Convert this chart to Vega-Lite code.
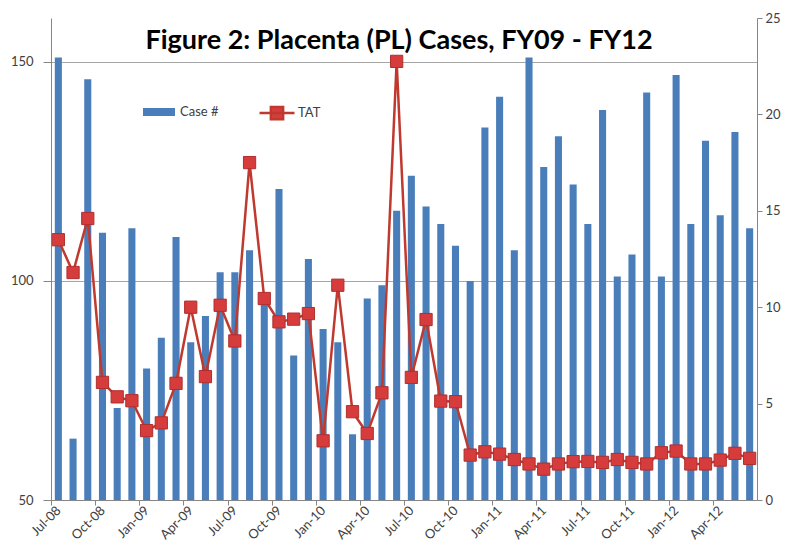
{
  "$schema": "https://vega.github.io/schema/vega-lite/v6.json",
  "width": 706,
  "height": 482,
  "autosize": {"type": "none"},
  "padding": {"left": 51, "top": 18, "right": 29, "bottom": 56},
  "background": "white",
  "config": {
    "font": "Lato",
    "view": {"stroke": null},
    "axis": {"labelFont": "Lato", "labelColor": "#404040", "labelFontSize": 13, "domainColor": "#868686", "tickColor": "#868686", "title": null}
  },
  "title": {
    "text": "Figure 2: Placenta (PL) Cases, FY09 - FY12",
    "font": "Lato",
    "fontSize": 27,
    "fontWeight": "bold",
    "color": "#000000",
    "anchor": "middle",
    "baseline": "alphabetic",
    "offset": 0,
    "dy": 64,
    "dx": -5
  },
  "data": {
    "values": [
      {"month": "Jul-08", "cases": 151, "tat": 13.5},
      {"month": "Aug-08", "cases": 64, "tat": 11.8},
      {"month": "Sep-08", "cases": 146, "tat": 14.6},
      {"month": "Oct-08", "cases": 111, "tat": 6.1},
      {"month": "Nov-08", "cases": 71, "tat": 5.35},
      {"month": "Dec-08", "cases": 112, "tat": 5.15},
      {"month": "Jan-09", "cases": 80, "tat": 3.6},
      {"month": "Feb-09", "cases": 87, "tat": 4.0},
      {"month": "Mar-09", "cases": 110, "tat": 6.05},
      {"month": "Apr-09", "cases": 86, "tat": 10.0},
      {"month": "May-09", "cases": 92, "tat": 6.4},
      {"month": "Jun-09", "cases": 102, "tat": 10.1},
      {"month": "Jul-09", "cases": 102, "tat": 8.25},
      {"month": "Aug-09", "cases": 107, "tat": 17.5},
      {"month": "Sep-09", "cases": 95, "tat": 10.45},
      {"month": "Oct-09", "cases": 121, "tat": 9.24},
      {"month": "Nov-09", "cases": 83, "tat": 9.38},
      {"month": "Dec-09", "cases": 105, "tat": 9.67},
      {"month": "Jan-10", "cases": 89, "tat": 3.07},
      {"month": "Feb-10", "cases": 86, "tat": 11.14},
      {"month": "Mar-10", "cases": 65, "tat": 4.58},
      {"month": "Apr-10", "cases": 96, "tat": 3.45},
      {"month": "May-10", "cases": 99, "tat": 5.56},
      {"month": "Jun-10", "cases": 116, "tat": 22.75},
      {"month": "Jul-10", "cases": 124, "tat": 6.36},
      {"month": "Aug-10", "cases": 117, "tat": 9.36},
      {"month": "Sep-10", "cases": 113, "tat": 5.13},
      {"month": "Oct-10", "cases": 108, "tat": 5.1},
      {"month": "Nov-10", "cases": 100, "tat": 2.33},
      {"month": "Dec-10", "cases": 135, "tat": 2.5},
      {"month": "Jan-11", "cases": 142, "tat": 2.38},
      {"month": "Feb-11", "cases": 107, "tat": 2.1},
      {"month": "Mar-11", "cases": 151, "tat": 1.87},
      {"month": "Apr-11", "cases": 126, "tat": 1.6},
      {"month": "May-11", "cases": 133, "tat": 1.87},
      {"month": "Jun-11", "cases": 122, "tat": 1.99},
      {"month": "Jul-11", "cases": 113, "tat": 2.0},
      {"month": "Aug-11", "cases": 139, "tat": 1.95},
      {"month": "Sep-11", "cases": 101, "tat": 2.1},
      {"month": "Oct-11", "cases": 106, "tat": 1.95},
      {"month": "Nov-11", "cases": 143, "tat": 1.87},
      {"month": "Dec-11", "cases": 101, "tat": 2.45},
      {"month": "Jan-12", "cases": 147, "tat": 2.54},
      {"month": "Feb-12", "cases": 113, "tat": 1.87},
      {"month": "Mar-12", "cases": 132, "tat": 1.87},
      {"month": "Apr-12", "cases": 115, "tat": 2.07},
      {"month": "May-12", "cases": 134, "tat": 2.42},
      {"month": "Jun-12", "cases": 112, "tat": 2.16}
    ]
  },
  "encoding": {
    "x": {
      "field": "month",
      "type": "ordinal",
      "sort": null,
      "scale": {"paddingInner": 0.52, "paddingOuter": 0.26},
      "axis": {
        "values": ["Jul-08", "Oct-08", "Jan-09", "Apr-09", "Jul-09", "Oct-09", "Jan-10", "Apr-10", "Jul-10", "Oct-10", "Jan-11", "Apr-11", "Jul-11", "Oct-11", "Jan-12", "Apr-12"],
        "labelAngle": -45,
        "labelAlign": "right",
        "labelBaseline": "middle",
        "labelFontSize": 13,
        "tickOffset": -7.35,
        "labelOffset": 7.35,
        "tickSize": 5,
        "labelPadding": 3,
        "grid": false
      }
    }
  },
  "layer": [
    {
      "mark": {"type": "bar", "clip": true},
      "encoding": {
        "y": {
          "field": "cases",
          "type": "quantitative",
          "scale": {"domain": [50, 160], "zero": false, "nice": false},
          "axis": {
            "orient": "left",
            "values": [50, 100, 150],
            "grid": true,
            "gridColor": "#a6a6a6",
            "gridWidth": 1,
            "tickSize": 8,
            "labelPadding": 10
          }
        },
        "y2": {"datum": 50},
        "color": {
          "datum": "Case #",
          "scale": {"range": ["#4a7ebb"]},
          "legend": {
            "orient": "none",
            "legendX": 92,
            "legendY": 78,
            "title": null,
            "padding": 0,
            "symbolType": "M-1,-0.25H1V0.25H-1Z",
            "symbolSize": 1024,
            "symbolStrokeWidth": 0,
            "labelFont": "Lato",
            "labelFontSize": 13,
            "labelColor": "#404040",
            "labelOffset": 5
          }
        }
      }
    },
    {
      "encoding": {
        "y": {
          "field": "tat",
          "type": "quantitative",
          "scale": {"domain": [0, 25], "nice": false},
          "axis": {
            "orient": "right",
            "values": [0, 5, 10, 15, 20, 25],
            "grid": false,
            "tickSize": 5,
            "labelPadding": 3
          }
        }
      },
      "layer": [
        {
          "mark": {"type": "line", "strokeWidth": 2.5},
          "encoding": {
            "stroke": {
              "datum": "TAT",
              "scale": {"range": ["#c0392f"]},
              "legend": {
                "orient": "none",
                "legendX": 207,
                "legendY": 76,
                "title": null,
                "padding": 0,
                "symbolType": "M-1,0H1M-0.35,-0.35H0.35V0.35H-0.35Z",
                "symbolSize": 1225,
                "symbolStrokeWidth": 2.5,
                "symbolFillColor": "#d63c3c",
                "labelFont": "Lato",
                "labelFontSize": 13,
                "labelColor": "#404040",
                "labelOffset": 2
              }
            }
          }
        },
        {
          "mark": {"type": "point", "shape": "square", "filled": true, "size": 150, "fill": "#d63c3c", "stroke": "#b02e2e", "strokeWidth": 1, "opacity": 1},
          "encoding": {}
        }
      ]
    }
  ],
  "resolve": {"scale": {"y": "independent", "color": "independent"}}
}
